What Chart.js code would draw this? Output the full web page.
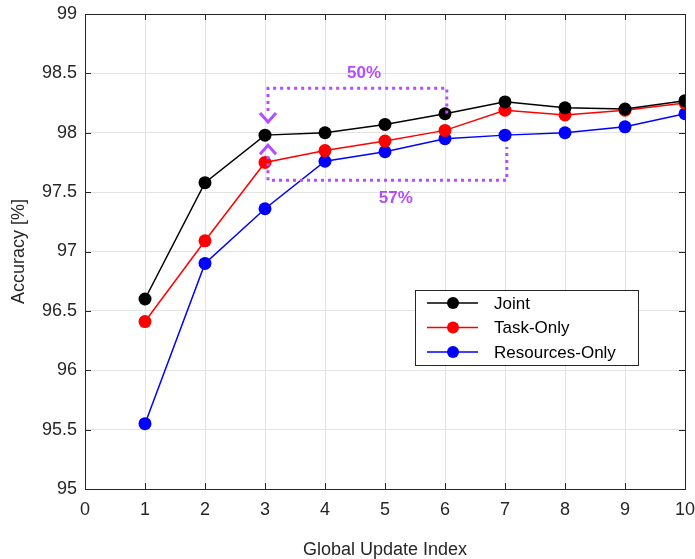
<!DOCTYPE html>
<html lang="en">
<head>
    <meta charset="UTF-8">
    <title>Accuracy vs Global Update Index</title>
    <script src="https://cdn.jsdelivr.net/npm/chart.js"></script>
    <style>
        body {
            margin: 0;
            padding: 0;
            background: white;
        }
        .wrap {
            width: 695px;
            height: 559px;
        }
    </style>
</head>
<body>
    <div class="wrap">
        <canvas id="accChart" width="695" height="559"></canvas>
    </div>

    <script>
        const updateIndex = [1, 2, 3, 4, 5, 6, 7, 8, 9, 10];
        const jointAcc = [96.60, 97.58, 97.98, 98.00, 98.07, 98.16, 98.26, 98.21, 98.20, 98.27];
        const taskOnlyAcc = [96.41, 97.09, 97.75, 97.85, 97.93, 98.02, 98.19, 98.15, 98.19, 98.25];
        const resourcesOnlyAcc = [95.55, 96.90, 97.36, 97.76, 97.84, 97.95, 97.98, 98.00, 98.05, 98.16];
        const seriesNames = ['Joint', 'Task-Only', 'Resources-Only'];
        const seriesColors = ['#000000', '#ff0000', '#0000ff'];

        const xTicks = [0, 1, 2, 3, 4, 5, 6, 7, 8, 9, 10];
        const yTicks = [95, 95.5, 96, 96.5, 97, 97.5, 98, 98.5, 99];

        // annotation brackets (data units)
        const topBracket = { x0: 3.05, x1: 6.03, level: 98.375, end1: 98.15, tip: 98.09, label: '50%', labelX: 4.65, labelY: 98.5 };
        const bottomBracket = { x0: 3.05, x1: 7.03, level: 97.6, end1: 97.88, tip: 97.895, label: '57%', labelX: 5.18, labelY: 97.45 };

        const PURPLE = '#b44dff';
        const FONT = '"Liberation Sans", Arial, sans-serif';

        const toPoints = (arr) => arr.map((v, i) => ({ x: updateIndex[i], y: v }));

        const datasets = [jointAcc, taskOnlyAcc, resourcesOnlyAcc].map((arr, i) => ({
            label: seriesNames[i],
            data: toPoints(arr),
            borderColor: seriesColors[i],
            backgroundColor: seriesColors[i],
            borderWidth: 1.5,
            pointRadius: 6.5,
            pointHoverRadius: 6.5,
            pointBorderWidth: 0,
            tension: 0,
        }));

        // box around axes with inward ticks, like the original figure
        const boxPlugin = {
            id: 'boxAxes',
            afterDatasetsDraw(chart) {
                const { ctx, chartArea: a, scales } = chart;
                ctx.save();
                ctx.strokeStyle = '#262626';
                ctx.lineWidth = 1;
                ctx.strokeRect(a.left + 0.5, a.top + 0.5, a.right - a.left, a.bottom - a.top);
                const len = 6;
                ctx.beginPath();
                xTicks.forEach((t) => {
                    const px = Math.round(scales.x.getPixelForValue(t)) + 0.5;
                    ctx.moveTo(px, a.bottom); ctx.lineTo(px, a.bottom - len);
                    ctx.moveTo(px, a.top); ctx.lineTo(px, a.top + len);
                });
                yTicks.forEach((t) => {
                    const py = Math.round(scales.y.getPixelForValue(t)) + 0.5;
                    ctx.moveTo(a.left, py); ctx.lineTo(a.left + len, py);
                    ctx.moveTo(a.right, py); ctx.lineTo(a.right - len, py);
                });
                ctx.stroke();
                ctx.restore();
            },
        };

        // dotted brackets, chevrons and percent labels
        const bracketPlugin = {
            id: 'brackets',
            afterDatasetsDraw(chart) {
                const { ctx, scales } = chart;
                const X = (v) => scales.x.getPixelForValue(v);
                const Y = (v) => scales.y.getPixelForValue(v);
                ctx.save();
                ctx.strokeStyle = PURPLE;
                ctx.fillStyle = PURPLE;

                const drawBracket = (b, down) => {
                    ctx.lineWidth = 3;
                    ctx.setLineDash([3, 4]);
                    ctx.beginPath();
                    const armStart = down ? Y(b.tip) - 11 : Y(b.tip) + 11;
                    ctx.moveTo(X(b.x0), armStart);
                    ctx.lineTo(X(b.x0), Y(b.level));
                    ctx.lineTo(X(b.x1), Y(b.level));
                    ctx.lineTo(X(b.x1), Y(b.end1));
                    ctx.stroke();
                    // chevron
                    ctx.setLineDash([]);
                    ctx.lineWidth = 3;
                    const cx = X(b.x0);
                    const ty = Y(b.tip);
                    const h = down ? -9 : 9;
                    ctx.beginPath();
                    ctx.moveTo(cx - 8, ty + h);
                    ctx.lineTo(cx, ty);
                    ctx.lineTo(cx + 8, ty + h);
                    ctx.stroke();
                    // label
                    ctx.font = 'bold 17px ' + FONT;
                    ctx.textAlign = 'center';
                    ctx.textBaseline = 'middle';
                    ctx.fillText(b.label, X(b.labelX), Y(b.labelY));
                };
                drawBracket(topBracket, true);
                drawBracket(bottomBracket, false);
                ctx.restore();
            },
        };

        // legend inside the axes
        const legendPlugin = {
            id: 'innerLegend',
            afterDraw(chart) {
                const { ctx } = chart;
                const x = 415, y = 290, w = 223, h = 75;
                ctx.save();
                ctx.fillStyle = '#ffffff';
                ctx.fillRect(x, y, w, h);
                ctx.strokeStyle = '#262626';
                ctx.lineWidth = 1;
                ctx.strokeRect(x + 0.5, y + 0.5, w, h);
                ctx.font = '17px ' + FONT;
                ctx.textBaseline = 'middle';
                ctx.textAlign = 'left';
                seriesNames.forEach((name, i) => {
                    const ry = y + 13 + i * 24.5;
                    ctx.strokeStyle = seriesColors[i];
                    ctx.lineWidth = 1.5;
                    ctx.beginPath();
                    ctx.moveTo(x + 12, ry);
                    ctx.lineTo(x + 63, ry);
                    ctx.stroke();
                    ctx.fillStyle = seriesColors[i];
                    ctx.beginPath();
                    ctx.arc(x + 38, ry, 6, 0, Math.PI * 2);
                    ctx.fill();
                    ctx.fillStyle = '#000000';
                    ctx.fillText(name, x + 79, ry + 1);
                });
                ctx.restore();
            },
        };

        const ctx = document.getElementById('accChart').getContext('2d');
        const accChart = new Chart(ctx, {
            type: 'line',
            data: { datasets },
            options: {
                responsive: false,
                animation: false,
                layout: { padding: { top: 14, right: 10, left: 0, bottom: 0 } },
                plugins: {
                    legend: { display: false },
                    tooltip: { enabled: false },
                },
                scales: {
                    x: {
                        type: 'linear',
                        min: 0,
                        max: 10,
                        afterBuildTicks: (scale) => { scale.ticks = xTicks.map((v) => ({ value: v })); },
                        afterFit: (scale) => {
                            scale.height = 70;
                            scale.paddingLeft = 0;
                            scale.paddingRight = 0;
                        },
                        grid: { color: '#e3e3e3', drawTicks: false },
                        border: { display: false },
                        ticks: {
                            color: '#262626',
                            font: { family: FONT, size: 18 },
                            padding: 10,
                        },
                        title: {
                            display: true,
                            text: 'Global Update Index',
                            color: '#262626',
                            font: { family: FONT, size: 18 },
                            padding: { top: 22, bottom: -2 },
                        },
                    },
                    y: {
                        type: 'linear',
                        min: 95,
                        max: 99,
                        afterBuildTicks: (scale) => { scale.ticks = yTicks.map((v) => ({ value: v })); },
                        afterFit: (scale) => {
                            scale.width = 85;
                            scale.paddingTop = 0;
                            scale.paddingBottom = 0;
                        },
                        grid: { color: '#e3e3e3', drawTicks: false },
                        border: { display: false },
                        ticks: {
                            color: '#262626',
                            font: { family: FONT, size: 18 },
                            padding: 8,
                            callback: (v) => String(v),
                        },
                        title: {
                            display: true,
                            text: 'Accuracy [%]',
                            color: '#262626',
                            font: { family: FONT, size: 18 },
                            padding: { top: 8, bottom: 0 },
                        },
                    },
                },
            },
            plugins: [boxPlugin, bracketPlugin, legendPlugin],
        });
    </script>
</body>
</html>
